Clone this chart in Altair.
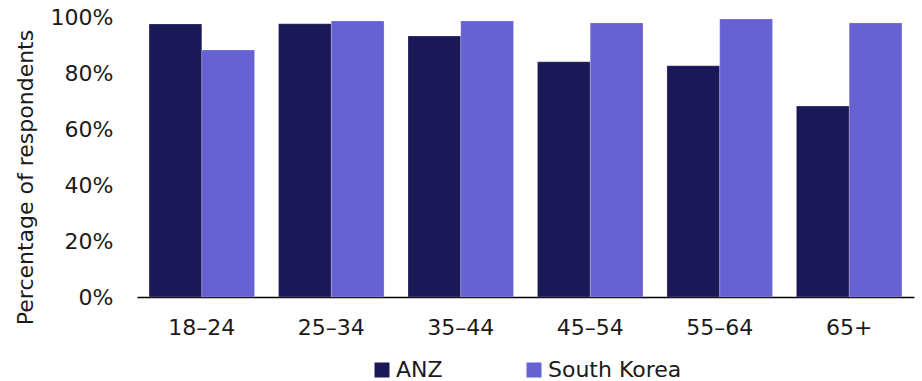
import altair as alt
import pandas as pd

age_groups = ["18–24", "25–34", "35–44", "45–54", "55–64", "65+"]
anz = [97.5, 97.6, 93.2, 84.0, 82.6, 68.2]
south_korea = [88.2, 98.6, 98.6, 97.9, 99.3, 97.9]
series = ["ANZ", "South Korea"]
colors = ["#1b1858", "#6762d3"]

rows = []
for i, g in enumerate(age_groups):
    rows.append({"age": g, "series": "ANZ", "value": anz[i] / 100})
    rows.append({"age": g, "series": "South Korea", "value": south_korea[i] / 100})
df = pd.DataFrame(rows)

font = "DejaVu Sans"
fs = 22
tc = "#1a1a1a"

chart = alt.Chart(df).mark_bar(stroke="#ffffff", strokeOpacity=0.25, strokeWidth=0.8).encode(
    x=alt.X("age:N", sort=age_groups, title=None,
            scale=alt.Scale(paddingInner=0.185, paddingOuter=0.093),
            axis=alt.Axis(labelAngle=0, ticks=False, domainColor="#000000", domainWidth=1.5,
                          labelFontSize=fs, labelColor=tc, labelFont=font, labelPadding=20)),
    xOffset=alt.XOffset("series:N", sort=series),
    y=alt.Y("value:Q", title="Percentage of respondents",
            scale=alt.Scale(domain=[0, 1]),
            axis=alt.Axis(format=".0%", values=[0, 0.2, 0.4, 0.6, 0.8, 1.0], grid=False, ticks=False, domain=False,
                          labelFontSize=fs, labelColor=tc, labelFont=font, labelPadding=24,
                          titleFontSize=fs, titleFont=font, titleFontWeight="normal", titleColor=tc,
                          titleX=-112, titleY=160, titleAngle=270, titleAlign="center",
                          titleBaseline="middle")),
    color=alt.Color("series:N", sort=series, scale=alt.Scale(domain=series, range=colors),
                    legend=alt.Legend(title=None, orient="none", direction="horizontal",
                                      legendX=234, legendY=342, symbolType="square", symbolSize=225,
                                      symbolStrokeWidth=0, labelFontSize=fs, labelFont=font,
                                      labelColor=tc, columnPadding=80, labelOffset=3)),
).properties(
    width=777, height=280,
    autosize=alt.AutoSizeParams(type="none"),
    padding={"left": 137, "top": 17, "right": 8, "bottom": 84},
).configure_view(stroke=None)

chart.save("out.html", embed_options={"renderer": "svg", "actions": False})
